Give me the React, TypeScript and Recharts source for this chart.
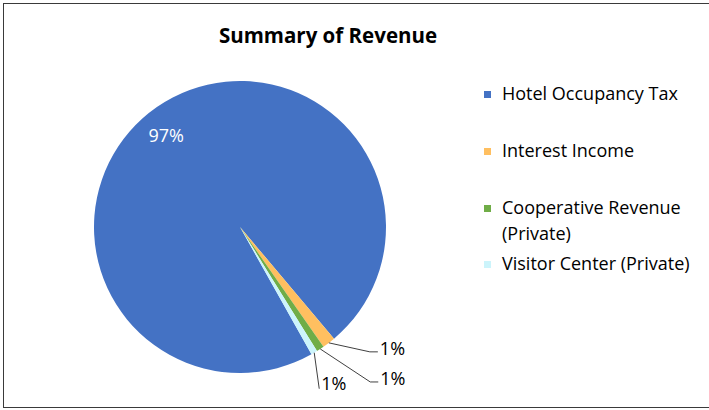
import { PieChart, Pie, Cell } from "recharts";

const categories = [
  "Hotel Occupancy Tax",
  "Interest Income",
  "Cooperative Revenue (Private)",
  "Visitor Center (Private)",
];
const legendLines = [
  ["Hotel Occupancy Tax"],
  ["Interest Income"],
  ["Cooperative Revenue", "(Private)"],
  ["Visitor Center (Private)"],
];
const revenueShare = [97.0, 1.45, 0.85, 0.7];
const colors = ["#4472C4", "#FFBF60", "#70AD47", "#CCF4FB"];

const FONT = "'Open Sans', 'Noto Sans', sans-serif";
const RAD = Math.PI / 180;

// Excel "angle of first slice" ~151deg, clockwise from 12 o'clock
const FIRST_SLICE = 150.7;

// leader lines for the thin slices (elbow offset from slice edge, horizontal tail)
const leaders: ({ dx: number; dy: number; tail: number } | null)[] = [
  null,
  { dx: 41, dy: 9, tail: 8 },
  { dx: 50, dy: 33, tail: 8 },
  { dx: 5, dy: 36, tail: 0 },
];

const data = categories.map((name, i) => ({ name, value: revenueShare[i] }));

function renderLabel(props: any) {
  const { cx, cy, midAngle, outerRadius, percent, index } = props;
  const txt = `${Math.round(percent * 100)}%`;
  const ld = leaders[index];
  if (!ld) {
    const a = (midAngle + 3.9) * RAD;
    const r = outerRadius * 0.81;
    return (
      <text
        x={cx + r * Math.cos(a)}
        y={cy - r * Math.sin(a)}
        fill="#fff"
        fontSize={18}
        fontFamily={FONT}
        textAnchor="middle"
        dominantBaseline="central"
      >
        {txt}
      </text>
    );
  }
  const a = midAngle * RAD;
  const px = cx + outerRadius * Math.cos(a);
  const py = cy - outerRadius * Math.sin(a);
  const ex = px + ld.dx;
  const ey = py + ld.dy;
  const tx = ex + ld.tail;
  return (
    <g>
      <polyline
        points={`${px},${py} ${ex},${ey} ${tx},${ey}`}
        fill="none"
        stroke="#404040"
        strokeWidth={1}
      />
      <text
        x={tx + 2}
        y={ld.tail ? ey - 4 : ey - 6}
        fill="#000"
        fontSize={18}
        fontFamily={FONT}
        dominantBaseline="central"
      >
        {txt}
      </text>
    </g>
  );
}

export default function App() {
  return (
    <div
      style={{
        position: "fixed",
        left: 0,
        top: 0,
        width: 709,
        height: 410,
        background: "#fff",
        overflow: "hidden",
        fontFamily: FONT,
      }}
    >
      <div
        style={{
          position: "absolute",
          left: 3,
          top: 3,
          width: 720,
          height: 403,
          border: "1px solid #3a3a3a",
        }}
      />
      <div
        style={{
          position: "absolute",
          left: 0,
          width: 656,
          top: 21,
          textAlign: "center",
          fontSize: 20.5,
          fontWeight: 700,
          color: "#000",
          lineHeight: "28px",
        }}
      >
        Summary of Revenue
      </div>
      <div style={{ position: "absolute", left: 0, top: 0 }}>
        <PieChart width={709} height={410}>
          <Pie
            data={data}
            dataKey="value"
            nameKey="name"
            cx={235}
            cy={222}
            outerRadius={146}
            startAngle={90 - FIRST_SLICE}
            endAngle={90 - FIRST_SLICE - 360}
            stroke="none"
            label={renderLabel}
            labelLine={false}
            isAnimationActive={false}
          >
            {data.map((d, i) => (
              <Cell key={d.name} fill={colors[i]} />
            ))}
          </Pie>
        </PieChart>
      </div>
      {legendLines.map((lines, i) => (
        <div
          key={i}
          style={{
            position: "absolute",
            left: 484,
            top: 80 + i * 56.8,
            display: "flex",
            alignItems: "flex-start",
          }}
        >
          <div
            style={{
              width: 7,
              height: 7,
              marginTop: 11,
              background: colors[i],
            }}
          />
          <div
            style={{
              marginLeft: 11,
              fontSize: 18,
              lineHeight: "26.4px",
              color: "#000",
            }}
          >
            {lines.map((l) => (
              <div key={l}>{l}</div>
            ))}
          </div>
        </div>
      ))}
    </div>
  );
}
